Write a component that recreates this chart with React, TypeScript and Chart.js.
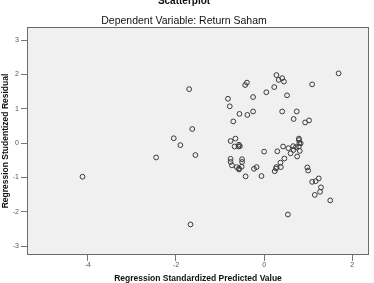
import { useEffect, useRef } from "react";
import { Chart, registerables } from "chart.js";

Chart.register(...registerables);

// Regression Standardized Predicted Value (x) and Studentized Residual (y)
const predicted = [
  -4.12, -2.45, -2.05, -1.9, -1.7, -1.63, -1.56, -1.67, -0.82, -0.78,
  -0.7, -0.56, -0.38, -0.25, -0.43, -0.39, -0.25, -0.65, -0.76, -0.67,
  -0.58, -0.55, -0.57, -0.76, -0.76, -0.73, -0.5, -0.5, -0.62, -0.57,
  -0.51, -0.57, -0.42, -0.23, -0.17, -0.06, 0.0, 0.05, 0.23, 0.28,
  0.33, 0.41, 0.45, 0.52, 0.41, 0.74, 0.67, 0.93, 1.02, 1.09,
  1.69, 0.79, 0.79, 0.3, 0.43, 0.55, 0.66, 0.67, 0.72, 0.79,
  0.81, 0.75, 0.6, 0.8, 0.83, 0.46, 0.37, 0.38, 0.28, 0.24,
  0.27, 0.98, 1.0, 1.09, 1.17, 1.24, 1.29, 1.27, 1.15, 1.5, 0.54,
];
const residual = [
  -0.98, -0.42, 0.14, -0.06, 1.57, 0.41, -0.35, -2.37, 1.29, 1.07,
  0.63, 0.85, 0.82, 0.92, 1.69, 1.76, 1.34, 0.13, 0.06, -0.1,
  -0.1, -0.09, -0.05, -0.46, -0.55, -0.65, -0.47, -0.55, -0.7, -0.77,
  -0.69, -0.74, -0.97, -0.75, -0.7, -0.96, -0.25, 1.48, 1.63, 1.98,
  1.84, 1.89, 1.79, 1.39, 0.92, 0.92, 0.7, 0.6, 0.66, 1.71,
  2.03, 0.13, 0.09, -0.24, -0.1, -0.15, -0.09, -0.2, -0.12, -0.1,
  -0.23, -0.39, -0.3, 0.0, -0.01, -0.45, -0.57, -0.7, -0.7, -0.82,
  -0.74, -0.71, -0.8, -1.13, -1.11, -1.03, -1.29, -1.42, -1.51, -1.67, -2.08,
];
const xTicks = [-4, -2, 0, 2];
const yTicks = [-3, -2, -1, 0, 1, 2, 3];

const chartTitle = "Scatterplot";
const chartSubtitle = "Dependent Variable: Return Saham";
const xTitle = "Regression Standardized Predicted Value";
const yTitle = "Regression Studentized Residual";

const FONT = '"Liberation Sans", Arial, sans-serif';

const framePlugin = {
  id: "frame",
  beforeDraw(chart: any) {
    const { ctx, chartArea } = chart;
    const { left, top, right, bottom } = chartArea;
    ctx.save();
    ctx.fillStyle = "#f0f0f0";
    ctx.fillRect(left, top, right - left, bottom - top);
    ctx.restore();
  },
  afterDraw(chart: any) {
    const { ctx, chartArea } = chart;
    const { left, top, right, bottom } = chartArea;
    ctx.save();
    ctx.strokeStyle = "#6a6a6a";
    ctx.lineWidth = 1;
    ctx.strokeRect(left + 0.5, top + 0.5, right - left - 1, bottom - top - 1);
    ctx.fillStyle = "#111";
    ctx.textAlign = "center";
    ctx.textBaseline = "alphabetic";
    ctx.font = `bold 10px ${FONT}`;
    ctx.fillText(chartTitle, 184, 4);
    ctx.font = `10.5px ${FONT}`;
    ctx.fillText(chartSubtitle, 184, 24);
    ctx.restore();
  },
};

export default function App() {
  const ref = useRef<HTMLCanvasElement | null>(null);
  useEffect(() => {
    if (!ref.current) return;
    const chart = new Chart(ref.current, {
      type: "scatter",
      data: {
        datasets: [
          {
            data: predicted.map((x, i) => ({ x, y: residual[i] })),
            pointStyle: "circle",
            pointRadius: 2.4,
            pointBorderWidth: 1,
            pointBorderColor: "#3a3a3a",
            pointBackgroundColor: "rgba(0,0,0,0)",
          },
        ],
      },
      options: {
        responsive: false,
        animation: false,
        layout: { padding: { left: 0, top: 27, right: 4, bottom: 0 } },
        plugins: {
          legend: { display: false },
          tooltip: { enabled: false },
          title: { display: false },
        },
        scales: {
          x: {
            type: "linear",
            min: -5.38,
            max: 2.38,
            afterBuildTicks: (s: any) => {
              s.ticks = xTicks.map((v) => ({ value: v }));
            },
            afterFit: (s: any) => {
              s.height = 28;
            },
            grid: {
              display: true,
              drawOnChartArea: false,
              drawTicks: true,
              tickLength: 6,
              color: "#777",
            },
            border: { display: false },
            ticks: {
              padding: 0,
              color: "#555",
              font: { family: FONT, size: 7 },
              callback: (v: any) => String(v),
            },
            title: {
              display: true,
              text: xTitle,
              color: "#111",
              padding: 0,
              font: { family: FONT, size: 8.5, weight: "bold", lineHeight: 1 },
            },
          },
          y: {
            type: "linear",
            min: -3.26,
            max: 3.38,
            afterBuildTicks: (s: any) => {
              s.ticks = yTicks.map((v) => ({ value: v }));
            },
            afterFit: (s: any) => {
              s.width = 27;
            },
            grid: {
              display: true,
              drawOnChartArea: false,
              drawTicks: true,
              tickLength: 6,
              color: "#777",
            },
            border: { display: false },
            ticks: {
              padding: 2,
              color: "#555",
              font: { family: FONT, size: 7 },
              callback: (v: any) => String(v),
            },
            title: {
              display: true,
              text: yTitle,
              color: "#111",
              padding: { top: 0.5, bottom: 0 },
              font: { family: FONT, size: 8.5, weight: "bold", lineHeight: 1.1 },
            },
          },
        },
      },
      plugins: [framePlugin],
    });
    return () => chart.destroy();
  }, []);
  return (
    <div style={{ position: "absolute", left: 0, top: 0, width: 374, height: 283 }}>
      <canvas ref={ref} width={374} height={283} />
    </div>
  );
}
